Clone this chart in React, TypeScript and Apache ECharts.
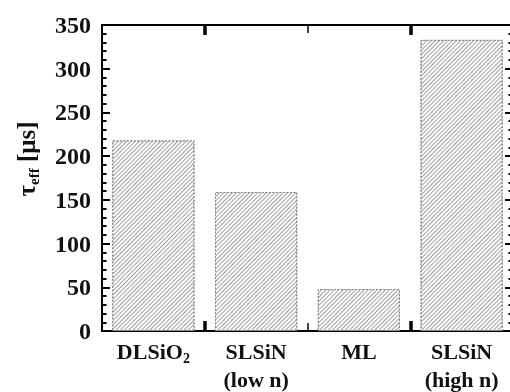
import React, { useEffect, useRef } from 'react';
import * as echarts from 'echarts';

const categories = ['DLSiO2', 'SLSiN\n(low n)', 'ML', 'SLSiN\n(high n)'];
const tauEff = [218, 159, 48, 333];
const yMin = 0;
const yMax = 350;
const yInterval = 50;

export default function App() {
  const ref = useRef<HTMLDivElement>(null);
  useEffect(() => {
    const chart = echarts.init(ref.current!, null, { renderer: 'svg' });
    const font = 'Liberation Serif';
    const grid = { left: 102, top: 25, right: -3, bottom: 61, outerBoundsMode: 'none', containLabel: false };
    const tickAxis = (gridIndex: number, position: string) => ({
      type: 'value',
      gridIndex,
      position,
      min: 0,
      max: 4,
      interval: 2,
      axisLine: { show: true, onZero: false, lineStyle: { color: '#000', width: 2 } },
      axisTick: { show: true, inside: true, length: 8, lineStyle: { width: 1.5, color: '#000' } },
      minorTick: { show: true, splitNumber: 2, length: 10, lineStyle: { width: 3.5, color: '#000' } },
      axisLabel: { show: false },
      splitLine: { show: false },
      minorSplitLine: { show: false },
    });
    const yAxisBase = (gridIndex: number, position: string) => ({
      type: 'value',
      gridIndex,
      position,
      min: yMin,
      max: yMax,
      interval: yInterval,
      axisLine: { show: true, onZero: false, lineStyle: { color: '#000', width: 2 } },
      axisTick: { show: true, inside: true, length: 8, lineStyle: { width: 2, color: '#000' } },
      minorTick: { show: true, splitNumber: 5, length: 4.5, lineStyle: { width: 2, color: '#000' } },
      splitLine: { show: false },
      minorSplitLine: { show: false },
    });
    chart.setOption({
      animation: false,
      grid: [grid, { ...grid }],
      xAxis: [
        {
          type: 'category',
          gridIndex: 0,
          position: 'bottom',
          data: categories,
          axisLine: { onZero: false, lineStyle: { color: '#000', width: 2 } },
          axisTick: { show: false },
          axisLabel: {
            interval: 0,
            margin: 6,
            color: '#111',
            fontFamily: font,
            fontWeight: 'bold',
            fontSize: 22,
            lineHeight: 28,
            formatter: (v: string) => v.replace('O2', 'O{sub|2}'),
            rich: {
              sub: { fontFamily: font, fontWeight: 'bold', fontSize: 14, color: '#111', verticalAlign: 'bottom', lineHeight: 26 },
            },
          },
        },
        tickAxis(0, 'top'),
        tickAxis(1, 'bottom'),
      ],
      yAxis: [
        {
          ...yAxisBase(0, 'left'),
          name: '{t|τ}{s|eff} [μs]',
          nameLocation: 'middle',
          nameGap: 61,
          nameRotate: 90,
          nameTextStyle: {
            fontFamily: font, fontWeight: 'bold', fontSize: 25, color: '#111', padding: [0, 0, 0, 38],
            rich: {
              t: { fontFamily: font, fontWeight: 'bold', fontSize: 25, color: '#111', lineHeight: 30 },
              s: { fontFamily: font, fontWeight: 'bold', fontSize: 15, color: '#111', verticalAlign: 'bottom', lineHeight: 24 },
            },
          },
          axisLabel: { margin: 11, color: '#111', fontFamily: font, fontWeight: 'bold', fontSize: 24 },
        },
        { ...yAxisBase(1, 'right'), axisLabel: { show: false } },
      ],
      series: [
        {
          type: 'bar', xAxisIndex: 0, yAxisIndex: 0, data: tauEff, barWidth: '80%',
          itemStyle: {
            color: '#ffffff', borderColor: '#8a8a8a', borderWidth: 1, borderType: [2, 1.5],
            decal: { symbol: 'rect', symbolSize: 1, color: '#a0a0a0', backgroundColor: '#ffffff', dashArrayX: [1, 0], dashArrayY: [1, 2], rotation: -Math.PI / 4 },
          },
        },
      ],
    });
    return () => chart.dispose();
  }, []);
  return <div ref={ref} style={{ position: 'fixed', left: 0, top: 0, width: 510, height: 392 }} />;
}
